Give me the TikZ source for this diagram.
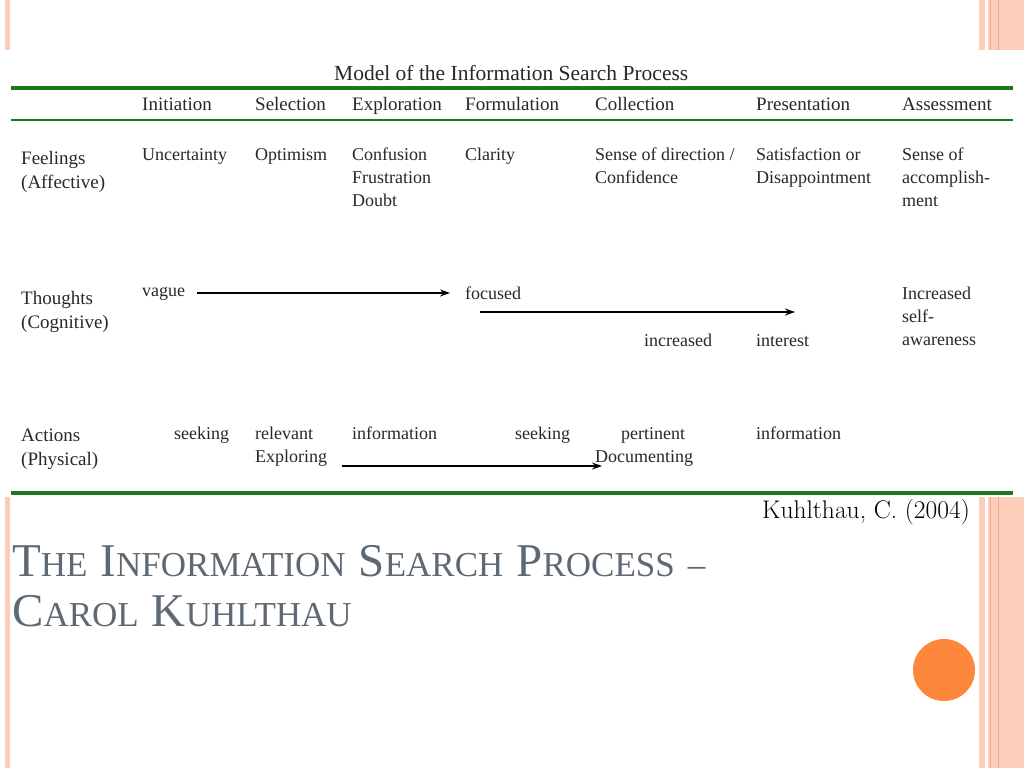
\documentclass[tikz,border=0pt]{standalone}
\usepackage{fontspec}
\setmainfont{Liberation Serif}
\newfontfamily\lmr{Latin Modern Roman}
\usetikzlibrary{arrows.meta}
\definecolor{gr}{RGB}{30,120,30}
\definecolor{stripe}{RGB}{252,205,185}
\definecolor{stripeD}{RGB}{245,170,140}
\definecolor{ttl}{RGB}{95,105,115}
\definecolor{orng}{RGB}{255,135,60}
\definecolor{tx}{RGB}{40,40,40}
\newcommand{\BS}[2]{{\fontsize{47}{50}\selectfont #1}{\fontsize{35}{38}\selectfont #2}}
\newcommand{\GAP}{\hspace{13pt}}
\begin{document}
\begin{tikzpicture}[x=1pt,y=-1pt,
 t/.style={anchor=base west,inner sep=0pt,font=\fontsize{18}{23}\selectfont,text=tx,align=left},
 h/.style={t,font=\fontsize{19}{24}\selectfont},
 arr/.style={-{Stealth[length=10pt,width=7pt]},line width=1.4pt}]
\useasboundingbox (0,0) rectangle (1024,768);
\fill[white] (0,0) rectangle (1024,768);
% stripes
\foreach \ya/\yb in {0/50,497/768}{
 \fill[stripe] (5,\ya) rectangle (10,\yb);
 \fill[stripe] (979,\ya) rectangle (1024,\yb);
 \draw[stripeD,line width=0.8pt] (990,\ya) -- (990,\yb);
 \draw[stripeD,line width=0.8pt] (998,\ya) -- (998,\yb);
 \fill[white] (985,\ya) rectangle (988,\yb);
}
% lines
\draw[gr,line width=3.5pt] (11,88) -- (1013,88);
\draw[gr,line width=2.5pt] (11,120) -- (1013,120);
\draw[gr,line width=3.5pt] (11,493) -- (1013,493);
\node[h,font=\fontsize{21.5}{24}\selectfont] (title) at (334,81) {Model of the Information Search Process};
\node[h] (c1) at (142,110) {Initiation};
\node[h] (c2) at (255,110) {Selection};
\node[h] (c3) at (352,110) {Exploration};
\node[h] (c4) at (465,110) {Formulation};
\node[h] (c5) at (595,110) {Collection};
\node[h] (c6) at (756,110) {Presentation};
\node[h] (c7) at (902,110) {Assessment};
\node[h,anchor=north west] (r1) at (21,151) {Feelings\\(Affective)};
\node[h,anchor=north west] (r2) at (21,291) {Thoughts\\(Cognitive)};
\node[h,anchor=north west] (r3) at (21,429) {Actions\\(Physical)};
\node[t,anchor=north west] (f1) at (142,148) {Uncertainty};
\node[t,anchor=north west] (f2) at (255,148) {Optimism};
\node[t,anchor=north west] (f3) at (352,148) {Confusion\\Frustration\\Doubt};
\node[t,anchor=north west] (f4) at (465,148) {Clarity};
\node[t,anchor=north west] (f5) at (595,148) {Sense of direction /\\Confidence};
\node[t,anchor=north west] (f6) at (756,148) {Satisfaction or\\Disappointment};
\node[t,anchor=north west] (f7) at (902,148) {Sense of\\accomplish-\\ment};
\node[t,anchor=north west] (vague) at (142,287) {vague};
\node[t,anchor=north west] (focused) at (465,287) {focused};
\node[t,anchor=north west] (incr) at (644,334) {increased};
\node[t,anchor=north west] (intr) at (756,334) {interest};
\node[t,anchor=north west] (self) at (902,287) {Increased\\self-\\awareness};
\node[t,anchor=north west] (a1) at (174,427) {seeking};
\node[t,anchor=north west] (a2) at (255,427) {relevant\\Exploring};
\node[t,anchor=north west] (a3) at (352,427) {information};
\node[t,anchor=north west] (a4) at (515,427) {seeking};
\node[t,anchor=north west] (a5) at (621,427) {pertinent};
\node[t,anchor=north west] (a5b) at (595,450) {Documenting};
\node[t,anchor=north west] (a6) at (756,427) {information};
\coordinate (s1) at (197,293);
\coordinate (e1) at (450,293);
\coordinate (s2) at (480,312);
\coordinate (e2) at (795,312);
\coordinate (s3) at (342,466);
\coordinate (e3) at (602,466);
\draw[arr] (s1) -- (e1);
\draw[arr] (s2) -- (e2);
\draw[arr] (s3) -- (e3);
\node[anchor=base east,inner sep=0pt,font=\lmr\fontsize{25.5}{28}\selectfont] (cite) at (970,518) {Kuhlthau, C. (2004)};
\node[anchor=base west,inner sep=0pt,text=ttl,align=left] (heading) at (12,576)
 {\BS{T}{HE}\GAP\BS{I}{NFORMATION}\GAP\BS{S}{EARCH}\GAP\BS{P}{ROCESS}\GAP{\fontsize{35}{38}\selectfont –}};
\node[anchor=base west,inner sep=0pt,text=ttl] (heading2) at (12,626) {\BS{C}{AROL}\GAP\BS{K}{UHLTHAU}};
\fill[orng] (944,670) circle (31) node (dot) {};
\end{tikzpicture}
\end{document}
